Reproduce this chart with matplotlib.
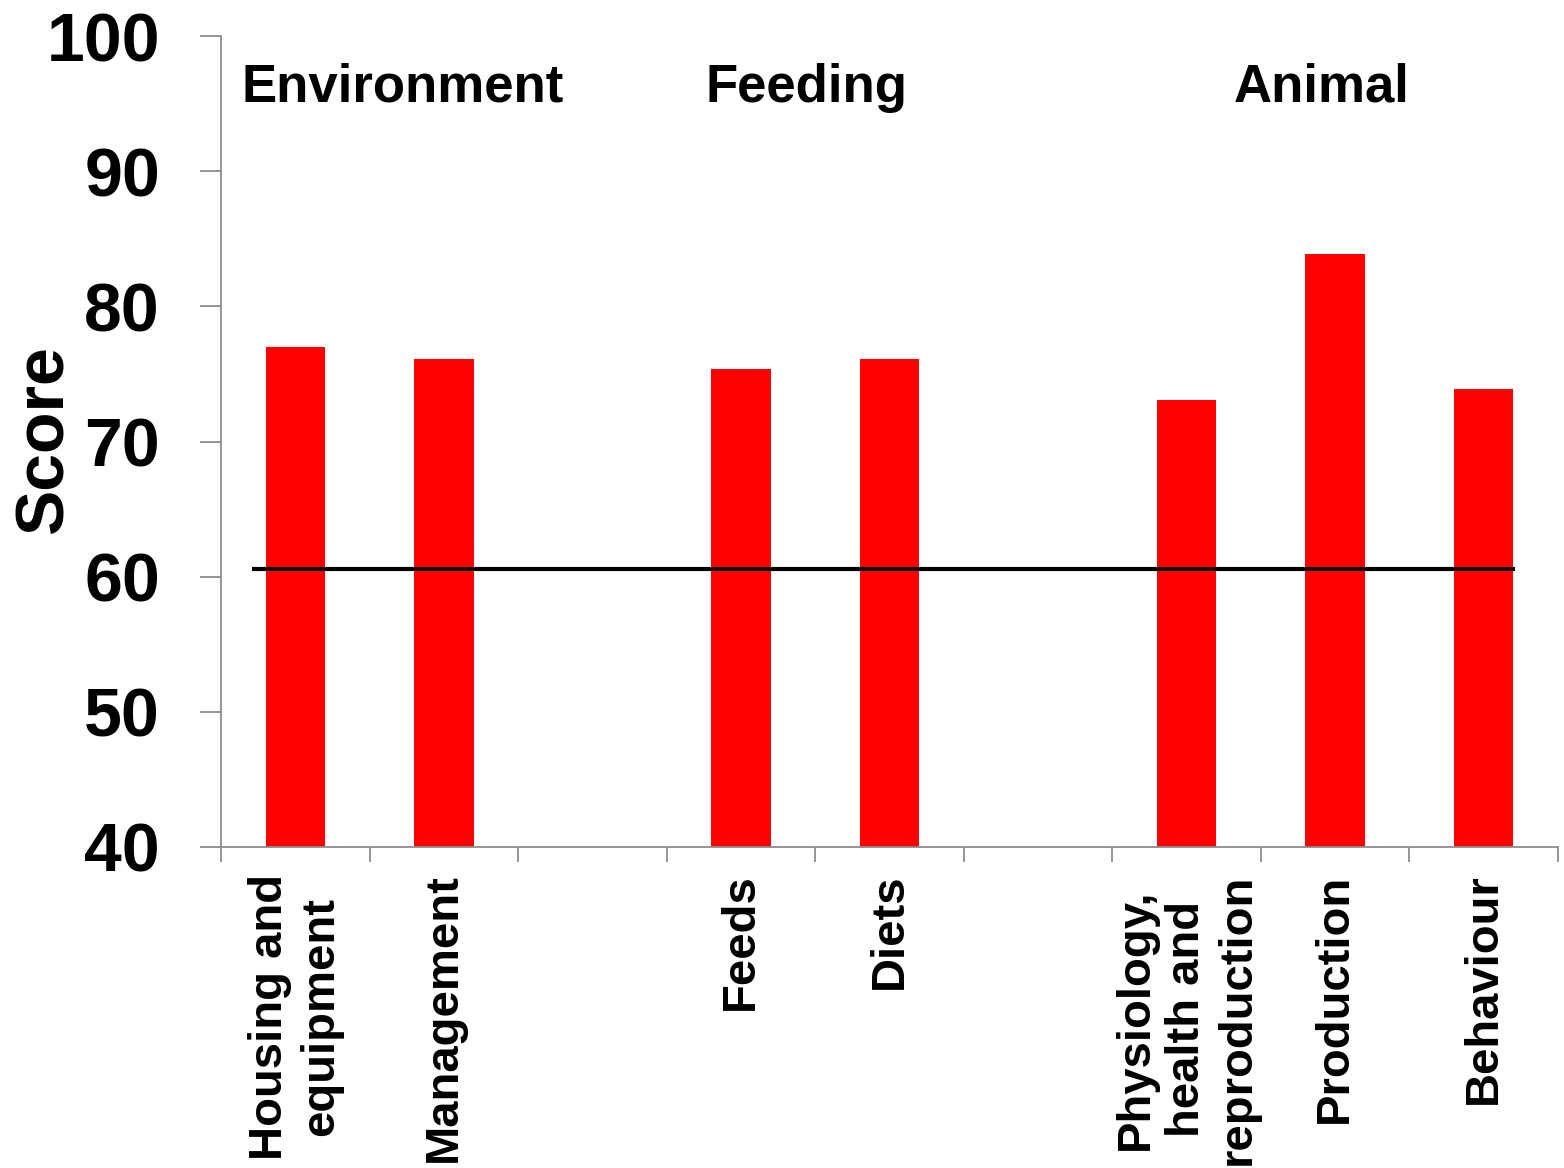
import numpy as np
import matplotlib
matplotlib.use("Agg")
import matplotlib.pyplot as plt

plt.rcParams['font.family'] = ['Liberation Sans', 'DejaVu Sans']
plt.rcParams['font.weight'] = 'bold'

# Category slots (empty strings are spacer slots between groups)
categories = ["Housing and\nequipment", "Management", "",
              "Feeds", "Diets", "",
              "Physiology,\nhealth and\nreproduction", "Production", "Behaviour"]
scores = [77.0, 76.1, None, 75.4, 76.1, None, 73.1, 83.9, 73.9]
groups = ["Environment", "Feeding", "Animal"]
group_x = [0.135, 3.26, 6.82]
threshold = 60.6
threshold_span = (0.207, 8.713)

yticks = [40, 50, 60, 70, 80, 90, 100]

fig = plt.figure(figsize=(15.64, 11.68), dpi=100)
ax = fig.add_axes([221 / 1564, 1 - 847 / 1168, (1558 - 221) / 1564, (847 - 36) / 1168])

pos = np.arange(len(categories)) + 0.5
vals = [v for v in scores if v is not None]
vpos = [p for p, v in zip(pos, scores) if v is not None]
ax.bar(vpos, np.array(vals) - 40, bottom=40, width=0.4, color='#ff0000', zorder=2)

ax.plot(threshold_span, [threshold, threshold], color='black', lw=3, zorder=3,
        solid_capstyle='butt')

ax.set_xlim(0, len(categories))
ax.set_ylim(40, 100)

spine_col = '#8c8c8c'
for s in ['top', 'right']:
    ax.spines[s].set_visible(False)
for s in ['left', 'bottom']:
    ax.spines[s].set_color(spine_col)
    ax.spines[s].set_linewidth(1.3)

ax.set_yticks(yticks)
ax.set_yticklabels([str(t) for t in yticks], fontsize=49, fontweight='bold')
ax.tick_params(axis='y', direction='out', length=15, width=1.3, color=spine_col, pad=29)

ax.set_xticks(np.arange(len(categories) + 1))
ax.set_xticklabels([])
ax.tick_params(axis='x', which='major', direction='out', length=11, width=1.3, color=spine_col)
ax.set_xticks(pos, minor=True)
ax.set_xticklabels(categories, minor=True, rotation=90, fontsize=34, fontweight='bold',
                   ha='center', va='top', multialignment='center')
ax.tick_params(axis='x', which='minor', length=0, pad=19)

ax.set_ylabel("Score", fontsize=49, fontweight='bold')
ax.yaxis.set_label_coords(-0.1077, 0.502)

for g, gx in zip(groups, group_x):
    ax.text(gx, 95.12, g, fontsize=38, fontweight='bold', ha='left', va='baseline')

fig.savefig("out.png", dpi=100)
